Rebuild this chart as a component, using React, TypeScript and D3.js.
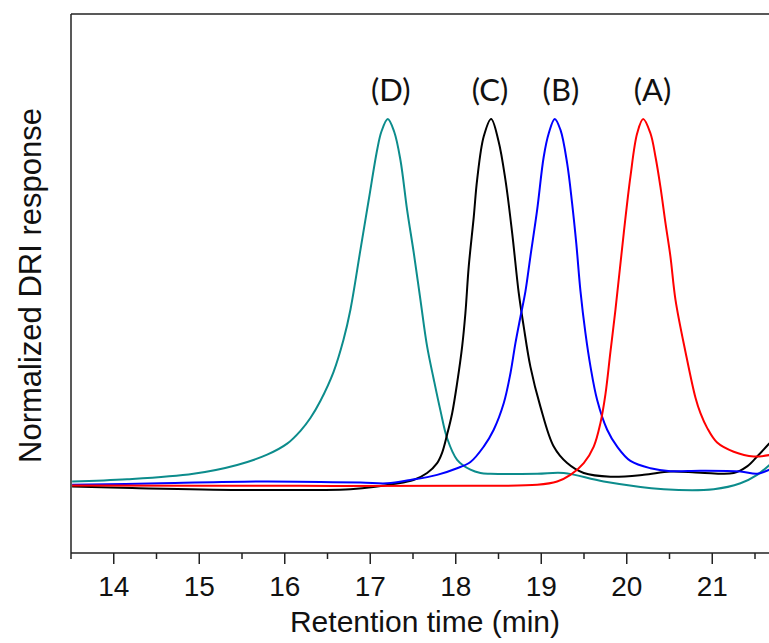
import React from "react";
import * as d3 from "d3";

type Pt = [number, number];

// Retention time (min), normalized response
const seriesD: Pt[] = [
  [13.513, 0.012], [14.157, 0.018], [14.932, 0.033], [15.443, 0.057], [15.794, 0.085],
  [16.028, 0.115], [16.184, 0.15], [16.3, 0.185], [16.418, 0.232], [16.57, 0.31],
  [16.687, 0.398], [16.768, 0.48], [16.885, 0.643], [16.982, 0.779], [17.081, 0.916],
  [17.13, 0.965], [17.205, 1.0], [17.28, 0.965], [17.353, 0.888], [17.431, 0.752],
  [17.509, 0.635], [17.587, 0.507], [17.665, 0.38], [17.743, 0.29], [17.821, 0.205],
  [17.899, 0.13], [18.016, 0.071], [18.172, 0.044], [18.289, 0.035], [18.406, 0.033],
  [18.952, 0.033], [19.263, 0.035], [19.731, 0.012], [20.433, -0.009], [21.018, -0.009],
  [21.33, 0.007], [21.525, 0.03], [21.669, 0.057],
];

const seriesC: Pt[] = [
  [13.513, -0.002], [14.215, -0.006], [15.482, -0.011], [16.768, -0.009], [17.081, -0.002],
  [17.271, 0.005], [17.505, 0.016], [17.665, 0.035], [17.782, 0.062], [17.84, 0.09],
  [17.899, 0.14], [17.958, 0.198], [18.016, 0.28], [18.075, 0.38], [18.113, 0.471],
  [18.152, 0.598], [18.211, 0.734], [18.25, 0.834], [18.327, 0.952], [18.414, 1.0],
  [18.5, 0.94], [18.581, 0.834], [18.66, 0.689], [18.737, 0.525], [18.795, 0.434],
  [18.873, 0.325], [18.99, 0.216], [19.146, 0.107], [19.303, 0.062], [19.497, 0.035],
  [19.809, 0.025], [20.199, 0.03], [20.511, 0.039], [20.862, 0.036], [21.251, 0.035],
  [21.408, 0.053], [21.525, 0.08], [21.669, 0.116],
];

const seriesB: Pt[] = [
  [13.513, 0.003], [14.546, 0.007], [15.716, 0.012], [16.885, 0.009], [17.198, 0.007],
  [17.47, 0.016], [17.782, 0.03], [18.016, 0.048], [18.172, 0.065], [18.327, 0.107],
  [18.444, 0.153], [18.561, 0.225], [18.64, 0.307], [18.698, 0.389], [18.757, 0.461],
  [18.815, 0.53], [18.873, 0.625], [18.952, 0.752], [19.029, 0.897], [19.088, 0.961],
  [19.158, 1.0], [19.225, 0.97], [19.303, 0.879], [19.361, 0.77], [19.41, 0.66],
  [19.459, 0.53], [19.517, 0.416], [19.576, 0.325], [19.654, 0.234], [19.771, 0.153],
  [19.888, 0.107], [20.043, 0.068], [20.277, 0.048], [20.511, 0.04], [20.862, 0.041],
  [21.33, 0.039], [21.525, 0.033], [21.669, 0.044],
];

const seriesA: Pt[] = [
  [13.513, 0.001], [16.18, 0.0], [18.172, 0.0], [18.952, 0.003], [19.186, 0.012],
  [19.341, 0.03], [19.497, 0.062], [19.614, 0.107], [19.692, 0.171], [19.751, 0.25],
  [19.809, 0.365], [19.868, 0.48], [19.965, 0.689], [20.043, 0.843], [20.122, 0.961],
  [20.192, 1.0], [20.277, 0.961], [20.336, 0.897], [20.394, 0.815], [20.453, 0.716],
  [20.511, 0.625], [20.57, 0.507], [20.687, 0.365], [20.804, 0.24], [20.862, 0.198],
  [20.94, 0.158], [21.057, 0.118], [21.251, 0.093], [21.485, 0.08], [21.669, 0.084],
];

const seriesNames = ["(D)", "(C)", "(B)", "(A)"];
const seriesColors = ["#0c8c8c", "#000000", "#0000ff", "#ff0000"];
const labelX = [17.24, 18.4, 19.23, 20.3];

const majorTicks = [14, 15, 16, 17, 18, 19, 20, 21, 22];
const tickLabels = [14, 15, 16, 17, 18, 19, 20, 21];
const minorTicks = [13.5, 14.5, 15.5, 16.5, 17.5, 18.5, 19.5, 20.5, 21.5];

const W = 769;
const H = 643;
const left = 71;
const top = 14;
const bottom = 553;

export default function App() {
  const x = d3.scaleLinear().domain([13.5, 22]).range([left, left + 8.5 * 85.5]);
  const y = d3.scaleLinear().domain([-0.183, 1.286]).range([bottom, top]);
  const line = d3
    .line<Pt>()
    .x((d) => x(d[0]))
    .y((d) => y(d[1]))
    .curve(d3.curveCatmullRom.alpha(0.5));
  const all = [seriesD, seriesC, seriesB, seriesA];
  const axisColor = "#222";
  const rightEdge = x(22);

  return (
    <svg
      width={W}
      height={H}
      style={{ position: "absolute", left: 0, top: 0, background: "#fff" }}
    >
      <defs>
        <clipPath id="plot">
          <rect x={left} y={top} width={rightEdge - left} height={bottom - top} />
        </clipPath>
      </defs>
      <g clipPath="url(#plot)">
        {all.map((s, i) => (
          <path
            key={i}
            d={line(s) || ""}
            fill="none"
            stroke={seriesColors[i]}
            strokeWidth={2}
            strokeLinejoin="round"
          />
        ))}
      </g>
      <line x1={left} y1={top} x2={rightEdge} y2={top} stroke={axisColor} strokeWidth={1.5} />
      <line x1={left} y1={top} x2={left} y2={bottom} stroke={axisColor} strokeWidth={1.5} />
      <line x1={left} y1={bottom} x2={rightEdge} y2={bottom} stroke={axisColor} strokeWidth={1.5} />
      {majorTicks.map((t) => (
        <line key={"M" + t} x1={x(t)} x2={x(t)} y1={bottom} y2={bottom + 11} stroke={axisColor} strokeWidth={1.5} />
      ))}
      {minorTicks.map((t) => (
        <line key={"m" + t} x1={x(t)} x2={x(t)} y1={bottom} y2={bottom + 6} stroke={axisColor} strokeWidth={1.5} />
      ))}
      {tickLabels.map((t) => (
        <text
          key={"l" + t}
          x={x(t)}
          y={596}
          textAnchor="middle"
          fontFamily="'Liberation Sans', Arial, sans-serif"
          fontSize={28}
          fill="#111"
        >
          {t}
        </text>
      ))}
      <text
        x={425}
        y={632}
        textAnchor="middle"
        fontFamily="'Liberation Sans', Arial, sans-serif"
        fontSize={30}
        fill="#111"
      >
        Retention time (min)
      </text>
      <text
        transform={`translate(41,${285.5}) rotate(-90)`}
        textAnchor="middle"
        fontFamily="'Liberation Sans', Arial, sans-serif"
        fontSize={31}
        fill="#111"
      >
        Normalized DRI response
      </text>
      {seriesNames.map((n, i) => (
        <text
          key={n}
          x={x(labelX[i])}
          y={101}
          textAnchor="middle"
          fontFamily="Lato, 'Open Sans', sans-serif"
          fontSize={31}
          fill="#111"
        >
          {n}
        </text>
      ))}
    </svg>
  );
}
